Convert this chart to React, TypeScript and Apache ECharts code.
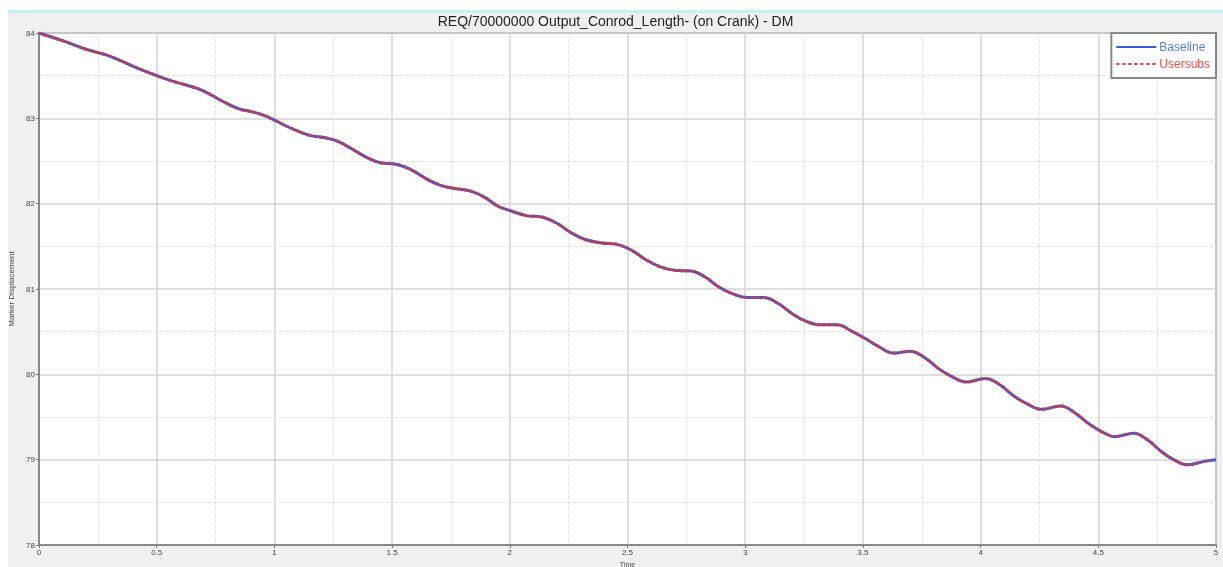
import React, { useEffect, useRef } from "react";
import * as echarts from "echarts";

const titleText = "REQ/70000000 Output_Conrod_Length- (on Crank) - DM";
const seriesNames = ["Baseline", "Usersubs"];
const timeValues = [
  0.0, 0.1, 0.2, 0.25, 0.3, 0.4, 0.5, 0.55, 0.6, 0.65, 0.7, 0.78, 0.85, 0.9, 0.95,
  1.0, 1.05, 1.1, 1.15, 1.22, 1.27, 1.33, 1.4, 1.45, 1.52, 1.58, 1.64, 1.7, 1.76,
  1.83, 1.89, 1.95, 2.0, 2.07, 2.14, 2.2, 2.26, 2.32, 2.39, 2.46, 2.52, 2.58, 2.64,
  2.7, 2.77, 2.83, 2.89, 2.95, 3.01, 3.08, 3.14, 3.2, 3.26, 3.32, 3.39, 3.45, 3.51,
  3.57, 3.63, 3.7, 3.76, 3.82, 3.88, 3.94, 4.02, 4.08, 4.14, 4.2, 4.26, 4.34, 4.4,
  4.46, 4.52, 4.57, 4.65, 4.71, 4.77, 4.82, 4.88, 4.95, 5.0,
];
const baselineValues = [
  84.0, 83.91, 83.81, 83.77, 83.73, 83.61, 83.5, 83.45, 83.41, 83.37, 83.32, 83.2,
  83.11, 83.08, 83.04, 82.98, 82.91, 82.85, 82.8, 82.77, 82.73, 82.64, 82.53, 82.48,
  82.46, 82.4, 82.3, 82.22, 82.18, 82.15, 82.08, 81.97, 81.92, 81.86, 81.84, 81.77,
  81.66, 81.58, 81.54, 81.52, 81.45, 81.34, 81.26, 81.22, 81.21, 81.14, 81.02, 80.94,
  80.9, 80.9, 80.83, 80.71, 80.62, 80.58, 80.58, 80.51, 80.42, 80.32, 80.25, 80.27,
  80.2, 80.07, 79.97, 79.91, 79.95, 79.88, 79.75, 79.65, 79.59, 79.63, 79.55, 79.42,
  79.32, 79.27, 79.31, 79.23, 79.09, 79.0, 78.94, 78.98, 79.0,
];
const usersubsValues = [...baselineValues];

export default function App() {
  const ref = useRef<HTMLDivElement>(null);
  useEffect(() => {
    if (!ref.current) return;
    const chart = echarts.init(ref.current, undefined, { renderer: "svg" });
    const toPairs = (vals: number[]) => timeValues.map((t, i) => [t, vals[i]]);
    chart.setOption({
      animation: false,
      backgroundColor: "transparent",
      textStyle: { fontFamily: "Arial, 'Liberation Sans', sans-serif" },
      graphic: [
        { type: "rect", z: -10, shape: { x: 0, y: 10, width: 1215, height: 3 }, style: { fill: "#c4f3f6" } },
        { type: "rect", z: -10, shape: { x: 0, y: 13, width: 1215, height: 554 }, style: { fill: "#f0f0f0" } },
      ],
      title: {
        text: titleText,
        left: "center",
        top: 14,
        padding: 0,
        textStyle: { fontSize: 14, fontWeight: "normal", color: "#222", fontFamily: "Arial, 'Liberation Sans', sans-serif" },
      },
      legend: {
        orient: "vertical",
        right: 7,
        top: 33,
        itemWidth: 40,
        itemHeight: 14,
        itemGap: 5,
        padding: [8, 6, 8, 4],
        borderColor: "#888",
        borderWidth: 2,
        borderRadius: 0,
        backgroundColor: "#fff",
        itemStyle: { opacity: 0 },
        data: [
          { name: seriesNames[0], textStyle: { color: "#5a7fe6" } },
          { name: seriesNames[1], textStyle: { color: "#e8504a" } },
        ],
        textStyle: { fontSize: 12, padding: [0, 0, 0, -2] },
      },
      grid: {
        left: 31,
        right: 7,
        top: 33,
        bottom: 22,
        outerBoundsMode: "none",
        containLabel: false,
        show: true,
        backgroundColor: "#ffffff",
        borderColor: "#9a9a9a",
        borderWidth: 2,
      },
      xAxis: {
        type: "value",
        min: 0,
        max: 5,
        interval: 0.5,
        name: "Time",
        nameLocation: "middle",
        nameGap: 11,
        nameTextStyle: { fontSize: 7, color: "#444" },
        axisLine: { show: true, lineStyle: { color: "#888", width: 2 } },
        axisTick: { show: true, length: 3, lineStyle: { color: "#777" } },
        axisLabel: { fontSize: 8, color: "#444", margin: 3 },
        splitLine: { show: true, lineStyle: { color: "#d4d4d4", width: 1.5 } },
        minorTick: { show: false, splitNumber: 2 },
        minorSplitLine: { show: true, lineStyle: { color: "#e2e2e2", type: "dashed", width: 1 } },
      },
      yAxis: {
        type: "value",
        min: 78,
        max: 84,
        interval: 1,
        name: "Marker Displacement",
        nameLocation: "middle",
        nameGap: 18,
        nameTextStyle: { fontSize: 8, color: "#444" },
        axisLine: { show: true, lineStyle: { color: "#888", width: 2 } },
        axisTick: { show: true, length: 3, lineStyle: { color: "#777" } },
        axisLabel: { fontSize: 8, color: "#444", margin: 4 },
        splitLine: { show: true, lineStyle: { color: "#d4d4d4", width: 1.5 } },
        minorTick: { show: false, splitNumber: 2 },
        minorSplitLine: { show: true, lineStyle: { color: "#e2e2e2", type: "dashed", width: 1 } },
      },
      series: [
        {
          name: seriesNames[0],
          type: "line",
          data: toPairs(baselineValues),
          smooth: 0.4,
          symbol: "none",
          color: "#3a5cd8",
          lineStyle: { color: "#3a5cd8", width: 3 },
        },
        {
          name: seriesNames[1],
          type: "line",
          data: toPairs(usersubsValues),
          smooth: 0.4,
          symbol: "none",
          color: "#e8352c",
          lineStyle: { color: "#e8352c", width: 3, type: [3, 3] },
        },
      ],
    });
    return () => chart.dispose();
  }, []);
  return (
    <div
      ref={ref}
      style={{ position: "fixed", left: 8, top: 0, width: 1215, height: 567 }}
    />
  );
}
